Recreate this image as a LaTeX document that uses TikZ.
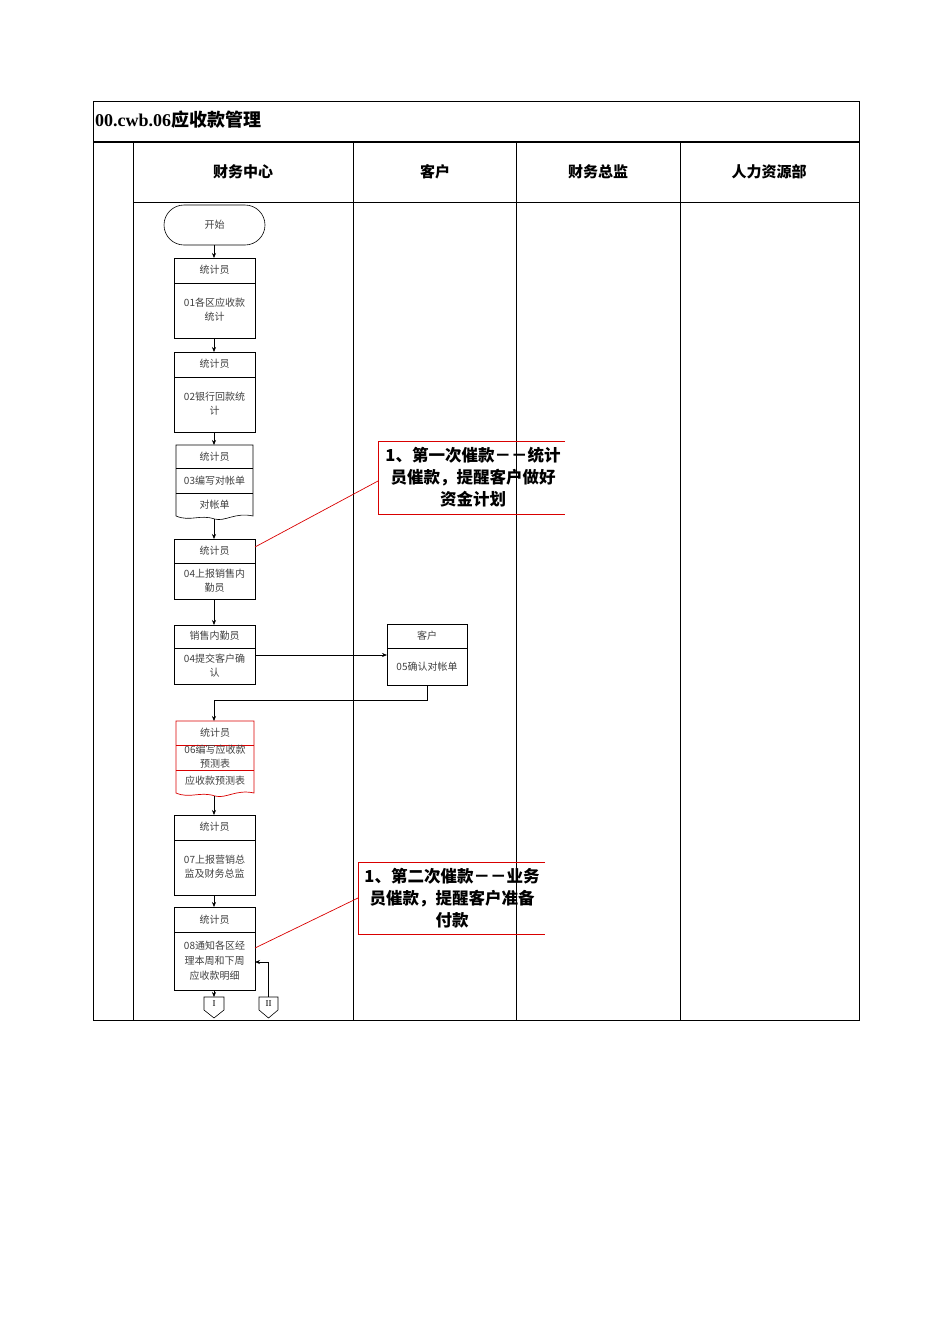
\documentclass[tikz,border=0pt]{standalone}
\usepackage{fontspec}
\setmainfont{Liberation Serif}
\newfontfamily\cjk{Noto Sans CJK SC}
\usetikzlibrary{arrows.meta}
\begin{document}
\begin{tikzpicture}[x=1pt,y=-1pt,
  lane/.style={draw,line width=0.6pt},
  bx/.style={draw,line width=0.6pt},
  tx/.style={font=\cjk\fontsize{10}{14}\selectfont,text=black!75,align=center},
  hd/.style={font=\cjk\bfseries\fontsize{15}{17}\selectfont},
  co/.style={font=\cjk\bfseries\fontsize{16.5}{22}\selectfont,align=center},
  arr/.style={-{Stealth[length=5pt,width=4pt]},line width=0.6pt},
  red/.style={draw=red!85!black,line width=0.7pt}]
\useasboundingbox (0,0) rectangle (950,1344);
% frame
\draw[lane] (93,101) rectangle (859,1020);
\draw[line width=1.2pt] (93,142) -- (859,142);
\node[anchor=west,inner sep=1pt,font=\bfseries\fontsize{18}{20}\selectfont] (title) at (94,120) {00.cwb.06{\cjk 应收款管理}};
\draw[lane] (133,142) -- (133,1020);
\draw[lane] (353,142) -- (353,1020);
\draw[lane] (516,142) -- (516,1020);
\draw[lane] (680,142) -- (680,1020);
\draw[lane] (133,202) -- (859,202);
\node[hd] (h1) at (243,172) {财务中心};
\node[hd] (h2) at (435,172) {客户};
\node[hd] (h3) at (598,172) {财务总监};
\node[hd] (h4) at (769,172) {人力资源部};
% start
\draw[bx,rounded corners=20pt] (164,205) rectangle (265,245);
\node[tx] (start) at (214.5,225) {开始};
\coordinate (sb) at (214,245);
% box1
\draw[bx] (174,258) rectangle (255,338); \draw[bx] (174,283) -- (255,283);
\node[tx] (b1h) at (214.5,270) {统计员};
\node[tx] (b1) at (214.5,310) {01各区应收款\\统计};
\coordinate (b1t) at (214,258); \coordinate (b1b) at (214,338);
% box2
\draw[bx] (174,352) rectangle (255,432); \draw[bx] (174,377) -- (255,377);
\node[tx] (b2h) at (214.5,364) {统计员};
\node[tx] (b2) at (214.5,404) {02银行回款统\\计};
\coordinate (b2t) at (214,352); \coordinate (b2b) at (214,432);
% box3 doc
\draw[bx] (176,445) -- (253,445) -- (253,516) .. controls (235,512) and (225,522) .. (214.5,519) .. controls (200,514) and (190,522) .. (176,516) -- cycle;
\draw[bx] (176,468) -- (253,468); \draw[bx] (176,493) -- (253,493);
\node[tx] (b3h) at (214.5,457) {统计员};
\node[tx] (b3) at (214.5,481) {03编写对帐单};
\node[tx] (b3d) at (214.5,505) {对帐单};
\coordinate (b3t) at (214,445); \coordinate (b3b) at (214,519);
% box4
\draw[bx] (174,539) rectangle (255,599); \draw[bx] (174,563) -- (255,563);
\node[tx] (b4h) at (214.5,551) {统计员};
\node[tx] (b4) at (214.5,581) {04上报销售内\\勤员};
\coordinate (b4t) at (214,539); \coordinate (b4b) at (214,599); \coordinate (b4r) at (255,547);
% box5
\draw[bx] (174,625) rectangle (255,684); \draw[bx] (174,648) -- (255,648);
\node[tx] (b5h) at (214.5,636) {销售内勤员};
\node[tx] (b5) at (214.5,666) {04提交客户确\\认};
\coordinate (b5t) at (214,625); \coordinate (b5r) at (255,655);
% customer box
\draw[bx] (387,624) rectangle (467,685); \draw[bx] (387,648) -- (467,648);
\node[tx] (c5h) at (427,636) {客户};
\node[tx] (c5) at (427,667) {05确认对帐单};
\coordinate (c5l) at (387,655); \coordinate (c5b) at (427,685);
% box6 doc red
\draw[red] (176,721) -- (254,721) -- (254,793) .. controls (236,789) and (226,799) .. (215,796) .. controls (200,791) and (190,799) .. (176,793) -- cycle;
\draw[red] (176,745) -- (254,745); \draw[red] (176,770) -- (254,770);
\node[tx] (b6h) at (215,733) {统计员};
\node[tx] (b6) at (215,757) {06编写应收款\\预测表};
\node[tx] (b6d) at (215,781) {应收款预测表};
\coordinate (b6t) at (214,721); \coordinate (b6b) at (214,796);
% box7
\draw[bx] (174,815) rectangle (255,895); \draw[bx] (174,840) -- (255,840);
\node[tx] (b7h) at (214.5,827) {统计员};
\node[tx] (b7) at (214.5,867) {07上报营销总\\监及财务总监};
\coordinate (b7t) at (214,815); \coordinate (b7b) at (214,895);
% box8
\draw[bx] (174,907) rectangle (255,990); \draw[bx] (174,932) -- (255,932);
\node[tx] (b8h) at (214.5,920) {统计员};
\node[tx,font=\cjk\fontsize{10}{15}\selectfont] (b8) at (214.5,961) {08通知各区经\\理本周和下周\\应收款明细};
\coordinate (b8t) at (214,907); \coordinate (b8b) at (214,990); \coordinate (b8r) at (255,962); \coordinate (b8c) at (255,948);
% off-page connectors
\draw[bx] (204,997) -- (224,997) -- (224,1010) -- (214,1018) -- (204,1010) -- cycle;
\node[font=\fontsize{9}{10}\selectfont] (opI) at (214,1004) {I};
\draw[bx] (259,997) -- (278,997) -- (278,1010) -- (268.5,1018) -- (259,1010) -- cycle;
\node[font=\fontsize{9}{10}\selectfont] (opII) at (268.5,1004) {II};
\coordinate (IIt) at (268.5,997);
% arrows
\draw[arr] (sb) -- (b1t);
\draw[arr] (b1b) -- (b2t);
\draw[arr] (b2b) -- (b3t);
\draw[arr] (b3b) -- (b4t);
\draw[arr] (b4b) -- (b5t);
\draw[arr] (b5r) -- (c5l);
\draw[arr] (c5b) -- (427,700) -- (214,700) -- (b6t);
\draw[arr] (b6b) -- (b7t);
\draw[arr] (b7b) -- (b8t);
\draw[arr] (b8b) -- (214,997);
\draw[arr] (IIt) -- (268.5,962) -- (b8r);
% callouts
\draw[red] (565,441) -- (378,441) -- (378,514) -- (565,514);
\node[co] (cal1) at (473,477) {1、第一次催款－－统计\\员催款，提醒客户做好\\资金计划};
\draw[red] (b4r) -- (378,481);
\draw[red] (545,862) -- (358,862) -- (358,934) -- (545,934);
\node[co] (cal2) at (452,898) {1、第二次催款－－业务\\员催款，提醒客户准备\\付款};
\draw[red] (b8c) -- (358,898);
\end{tikzpicture}
\end{document}
